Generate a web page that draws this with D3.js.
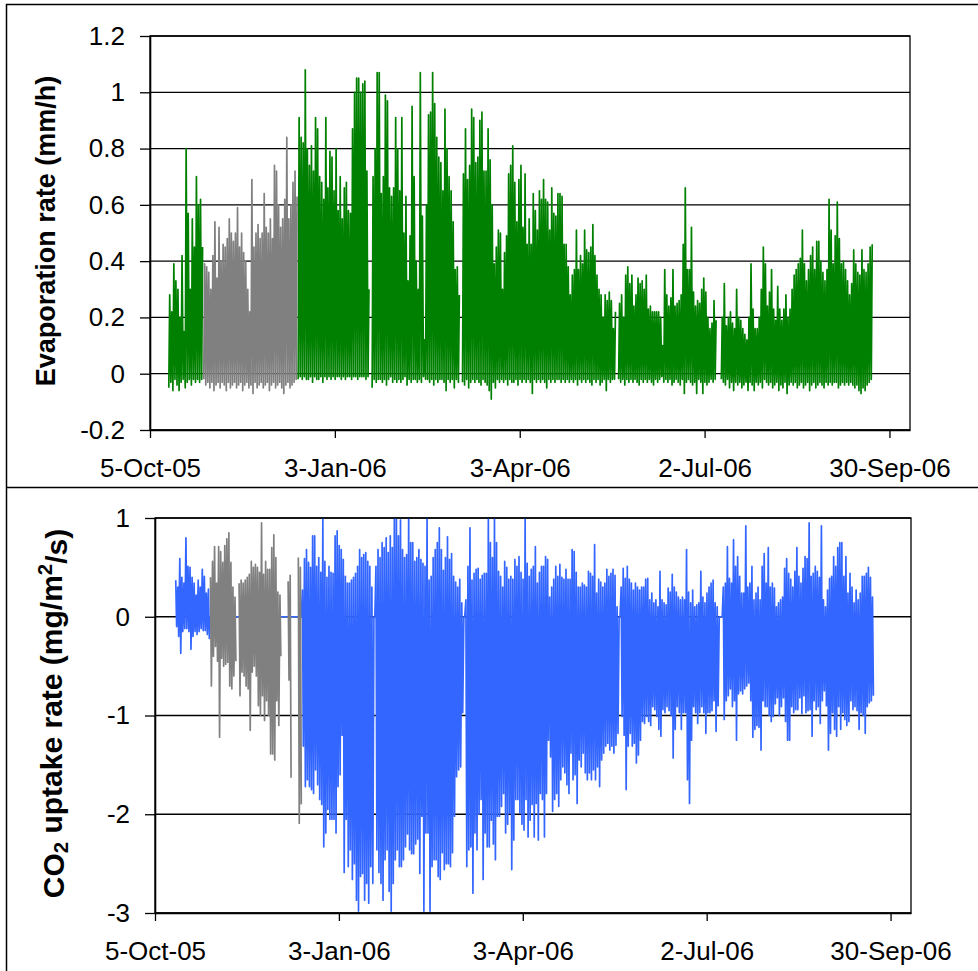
<!DOCTYPE html>
<html>
<head>
<meta charset="utf-8">
<script src="https://cdn.jsdelivr.net/npm/d3@7"></script>
<style>
  body { margin: 0; background: #fff; }
  svg text { font-family: "Liberation Sans", Arial, sans-serif; }
</style>
</head>
<body>
<div id="chart"></div>
<script>
// axis ticks
const tickDates = ["2005-10-05", "2006-01-03", "2006-04-03", "2006-07-02", "2006-09-30"];
const xDomain = ["2005-10-05", "2006-10-10"];
const evapTicks = [-0.2, 0, 0.2, 0.4, 0.6, 0.8, 1, 1.2];
const co2Ticks = [-3, -2, -1, 0, 1];

// evaporation: daily peak and night minimum (mm/h), one value per day from 14-Oct-05
// null = no measurement
const evapStart = "2005-10-14";
const evapMax = [
  0.28, 0.22, 0.39, 0.33, 0.30, 0.20, 0.42, 0.15, 0.80, 0.57, 0.30, 0.55, 0.45, 0.70, 0.60, 0.62, 0.45,
  null, null, null, null, null, null, null, null, null, null,
  null, null, null, null, null, null, null, null, null, null,
  null, null, null, null, null, null, null, null, null, null,
  null, null, null, null, null, null, null, null, null, null,
  null, null, null, null, null, null,
  0.91, 0.84, 0.82, 1.08, 0.80, 0.74, 0.81, 0.72, 0.91, 0.87,
  0.70, 0.68, 0.62, 0.91, 0.66, 0.79, 0.77, 0.65, 0.80, 0.58,
  0.70, 0.55, 0.66, 0.68, 0.58, 0.57, 0.87, 1.00, 1.05, 1.05,
  1.00, 1.03, 1.04, 0.72, 0.30, null, 0.70, 0.80, 1.07, 1.07,
  0.64, 0.70, 0.99, 0.97, 0.66, 0.63, 0.66, 0.91, 0.80, 0.65,
  0.91, 0.50, 0.63, 0.33, 0.49, 0.95, 0.70, 0.40, 0.30, 1.07,
  0.56, 0.12, 0.60, 0.92, 0.93, 1.07, 0.96, 0.84, 0.77, 0.75,
  0.65, 0.94, 0.80, 0.70, 0.65, 0.54, 0.37, 0.38, 0.28, null,
  0.71, 0.87, 0.69, 0.74, 0.94, 0.91, 0.75, 0.77, 0.90, 0.93,
  0.72, 0.72, 0.87, 0.76, 0.60, 0.39, 0.45, 0.51, 0.50, 0.30,
  0.43, 0.49, 0.71, 0.74, 0.81, 0.68, 0.54, 0.69, 0.74, 0.52,
  0.71, 0.46, 0.55, 0.46, 0.64, 0.58, 0.51, 0.65, 0.62, 0.69,
  0.62, 0.61, 0.51, 0.66, 0.57, 0.56, 0.64, 0.64, 0.63, 0.46,
  0.46, 0.38, 0.28, 0.35, 0.37, 0.51, 0.37, 0.42, 0.39, 0.51,
  0.44, 0.43, 0.45, 0.53, 0.42, 0.35, 0.30, 0.28, 0.20, 0.28,
  0.26, 0.29, 0.26, 0.16, 0.22, null, 0.25, 0.28, 0.20, 0.35,
  0.38, 0.32, 0.35, 0.24, 0.28, 0.34, 0.32, 0.33, 0.30, 0.35,
  0.23, 0.24, 0.22, 0.22, 0.22, 0.22, 0.20, 0.10, 0.37, 0.28,
  0.24, 0.27, 0.37, 0.24, 0.25, 0.26, 0.28, 0.46, 0.66, 0.37,
  0.37, 0.52, 0.29, 0.24, 0.26, 0.25, 0.30, 0.34, 0.29, 0.20,
  0.16, 0.18, 0.26, 0.19, null, null, 0.20, 0.32, 0.17, 0.20,
  0.22, 0.18, 0.16, 0.30, 0.20, 0.19, 0.16, 0.14, 0.12, 0.20,
  0.39, 0.23, 0.16, 0.16, 0.20, 0.30, 0.45, 0.39, 0.24, 0.29,
  0.37, 0.23, 0.19, 0.31, 0.23, 0.19, 0.23, 0.28, 0.20, 0.23,
  0.30, 0.35, 0.37, 0.39, 0.41, 0.51, 0.39, 0.33, 0.37, 0.42,
  0.45, 0.37, 0.47, 0.47, 0.40, 0.36, 0.33, 0.37, 0.62, 0.51,
  0.39, 0.49, 0.61, 0.48, 0.39, 0.40, 0.37, 0.33, 0.28, 0.32,
  0.44, 0.39, 0.36, 0.35, 0.44, 0.37, 0.36, 0.39, 0.45, 0.46
];
const evapMin = [
  -0.05, -0.03, -0.06, -0.02, -0.04, -0.06, -0.03, -0.02, -0.05, -0.03, -0.02, -0.04, -0.02, -0.03, -0.02, -0.03, -0.02,
  null, null, null, null, null, null, null, null, null, null,
  null, null, null, null, null, null, null, null, null, null,
  null, null, null, null, null, null, null, null, null, null,
  null, null, null, null, null, null, null, null, null, null,
  null, null, null, null, null, null,
  -0.02, -0.01, -0.02, -0.01, -0.02, -0.02, -0.01, -0.03, -0.01, -0.02,
  -0.02, -0.01, -0.03, -0.01, -0.02, -0.01, -0.02, -0.01, -0.02, -0.01,
  -0.01, -0.02, -0.01, -0.02, -0.01, -0.01, -0.02, -0.01, -0.01, -0.02,
  -0.01, -0.01, -0.01, -0.02, -0.01, null, -0.05, -0.02, -0.03, -0.02,
  -0.02, -0.03, -0.02, -0.04, -0.02, -0.01, -0.03, -0.02, -0.03, -0.02,
  -0.03, -0.02, -0.01, -0.04, -0.02, -0.03, -0.02, -0.02, -0.03, -0.02,
  -0.03, -0.01, -0.02, -0.02, -0.03, -0.02, -0.04, -0.02, -0.03, -0.02,
  -0.02, -0.03, -0.06, -0.02, -0.03, -0.02, -0.05, -0.02, -0.03, null,
  -0.03, -0.04, -0.02, -0.05, -0.03, -0.02, -0.03, -0.02, -0.03, -0.04,
  -0.02, -0.03, -0.04, -0.06, -0.09, -0.03, -0.05, -0.02, -0.03, -0.02,
  -0.03, -0.02, -0.04, -0.02, -0.03, -0.03, -0.02, -0.04, -0.02, -0.03,
  -0.02, -0.03, -0.02, -0.03, -0.07, -0.02, -0.03, -0.02, -0.03, -0.02,
  -0.03, -0.05, -0.02, -0.03, -0.02, -0.03, -0.02, -0.02, -0.03, -0.02,
  -0.03, -0.02, -0.03, -0.02, -0.03, -0.02, -0.04, -0.02, -0.03, -0.02,
  -0.03, -0.02, -0.03, -0.04, -0.02, -0.03, -0.02, -0.04, -0.03, -0.02,
  -0.06, -0.02, -0.03, -0.02, -0.02, null, -0.02, -0.03, -0.02, -0.04,
  -0.02, -0.03, -0.02, -0.03, -0.02, -0.03, -0.04, -0.02, -0.03, -0.02,
  -0.03, -0.02, -0.03, -0.04, -0.02, -0.03, -0.02, -0.01, -0.03, -0.02,
  -0.03, -0.02, -0.04, -0.03, -0.02, -0.03, -0.04, -0.02, -0.07, -0.03,
  -0.02, -0.03, -0.04, -0.03, -0.07, -0.02, -0.03, -0.07, -0.03, -0.04,
  -0.03, -0.02, -0.03, -0.02, null, null, -0.02, -0.03, -0.04, -0.02,
  -0.05, -0.03, -0.06, -0.03, -0.04, -0.03, -0.05, -0.04, -0.03, -0.06,
  -0.03, -0.04, -0.06, -0.03, -0.04, -0.03, -0.05, -0.02, -0.03, -0.04,
  -0.03, -0.05, -0.04, -0.03, -0.06, -0.04, -0.05, -0.03, -0.07, -0.04,
  -0.03, -0.04, -0.03, -0.05, -0.04, -0.03, -0.05, -0.04, -0.03, -0.06,
  -0.04, -0.03, -0.05, -0.04, -0.03, -0.04, -0.05, -0.03, -0.04, -0.03,
  -0.04, -0.03, -0.03, -0.05, -0.04, -0.03, -0.04, -0.03, -0.04, -0.03,
  -0.04, -0.05, -0.04, -0.06, -0.07, -0.05, -0.06, -0.04, -0.03, -0.02
];

// gray (gap-filled) evaporation, from 31-Oct-05
const evapGrayStart = "2005-10-31";
const evapGrayMax = [
  0.39, 0.38, 0.36, 0.30, 0.42, 0.54, 0.34, 0.52, 0.40, 0.46,
  0.45, 0.48, 0.55, 0.50, 0.47, 0.50, 0.59, 0.45, 0.50, 0.43,
  0.40, 0.30, 0.22, 0.69, 0.45, 0.50, 0.53, 0.48, 0.50, 0.64,
  0.52, 0.50, 0.55, 0.48, 0.74, 0.72, 0.60, 0.52, 0.55, 0.62,
  0.84, 0.55, 0.60, 0.68, 0.72, 0.63
];
const evapGrayMin = [
  -0.02, -0.04, -0.03, -0.05, -0.03, -0.06, -0.04, -0.03, -0.05, -0.03,
  -0.04, -0.06, -0.03, -0.05, -0.04, -0.03, -0.05, -0.04, -0.03, -0.06,
  -0.04, -0.03, -0.05, -0.04, -0.07, -0.03, -0.05, -0.04, -0.03, -0.05,
  -0.04, -0.03, -0.06, -0.04, -0.03, -0.05, -0.04, -0.03, -0.05, -0.07,
  -0.04, -0.03, -0.05, -0.04, -0.03, -0.02
];

// CO2 uptake: night maximum and daytime minimum (mg/m2/s), one value per day from 15-Oct-05
const co2Start = "2005-10-15";
const co2Max = [
  0.37, 0.30, 0.59, 0.40, 0.34, 0.80, 0.51, 0.50, 0.40, 0.34, 0.22, 0.37, 0.30, 0.48, 0.41, 0.24, 0.28,
  0, 0, 0, 0, 0, 0, 0, 0, 0, 0,
  0, 0, 0, 0, 0, 0, 0, 0, 0, 0,
  0, 0, 0, 0, 0, 0, 0, 0, 0, 0,
  0, 0, 0, 0, 0, 0, 0, 0, 0, 0,
  0, 0, 0, 0, 0,
  0.27, 0.59, 0.68, 0.55, 0.50, 0.82, 0.82, 0.51, 0.60, 0.45,
  1.00, 0.56, 0.40, 0.51, 0.45, 0.44, 0.82, 0.87, 0.72, 0.68,
  0.58, 0.41, 0.34, 0.34, 0.37, 0.40, 0.44, 0.51, 0.68, 0.60,
  0.63, 0.65, 0.56, 0.51, 0.30, 0, 0.51, 0.68, 0.60, 0.75,
  0.70, 0.80, 0.65, 0.82, 0.70, 1.00, 1.00, 0.82, 0.98, 0.68,
  0.60, 0.63, 1.00, 0.75, 0.75, 0.56, 0.60, 0.68, 0.58, 0.54,
  0.51, 1.00, 0.37, 0.41, 0.60, 0.68, 0.75, 0.90, 0.68, 0.47,
  0.60, 0.81, 0.58, 0.64, 0.41, 0.35, 0.30, 0.38, 0.14, 0,
  0.17, 0.51, 0.90, 0.37, 0.44, 0.48, 0.49, 0.38, 0.42, 0.44,
  0.44, 1.00, 0.75, 0.60, 1.00, 0.75, 0.46, 0.41, 0.30, 0.56,
  0.50, 0.38, 0.41, 0.38, 0.58, 0.51, 0.61, 0.45, 0.38, 1.00,
  0.54, 0.41, 0.48, 0.51, 0.71, 0.34, 0.45, 0.51, 0.51, 0.61,
  0.58, 0.20, 0.30, 0.38, 0.51, 0.41, 0.53, 0.40, 0.38, 0.48,
  0.38, 0.38, 0.68, 0.66, 0.45, 0.30, 0.30, 0.34, 0.32, 0.30,
  0.46, 0.44, 0.41, 0.73, 0.24, 0.38, 0.35, 0.30, 0.34, 0.48,
  0.41, 0.44, 0.48, 0.42, 0.10, 0, 0.30, 0.49, 0.39, 0.51,
  0.38, 0.34, 0.27, 0.34, 0.30, 0.27, 0.30, 0.30, 0.38, 0.39,
  0.17, 0.24, 0.14, 0.17, 0.10, 0.46, 0.17, 0.14, 0.12, 0.29,
  0.25, 0.43, 0.30, 0.25, 0.20, 0.17, 0.20, 0.17, 0.68, 0.25,
  0.14, 0.27, 0.10, 0.12, 0.14, 0.46, 0.20, 0.14, 0.24, 0.30,
  0.34, 0.37, 0.14, 0.10, 0, 0, 0.30, 0.34, 0.71, 0.39,
  0.34, 0.78, 0.51, 0.61, 0.41, 0.24, 0.24, 0.92, 0.30, 0.34,
  0.51, 0.17, 0.24, 0.30, 0.17, 0.51, 0.64, 0.34, 0.70, 0.30,
  0.34, 0.29, 0.10, 0.14, 0.17, 0.20, 0.49, 0.59, 0.44, 0.38,
  0.30, 0.46, 0.70, 0.41, 0.34, 0.49, 0.61, 0.59, 0.95, 0.41,
  0.44, 0.51, 0.46, 0.40, 0.92, 0.17, 0.10, 0.27, 0.39, 0.41,
  0.61, 0.51, 0.70, 0.75, 0.75, 0.41, 0.61, 0.24, 0.44, 0.30,
  0.14, 0.27, 0.17, 0.24, 0.41, 0.41, 0.44, 0.50, 0.40, 0.20
];
const co2Min = [
  -0.10, -0.20, -0.37, -0.15, -0.12, -0.12, -0.15, -0.33, -0.20, -0.15, -0.18, -0.15, -0.12, -0.14, -0.14, -0.18, -0.22,
  0, 0, 0, 0, 0, 0, 0, 0, 0, 0,
  0, 0, 0, 0, 0, 0, 0, 0, 0, 0,
  0, 0, 0, 0, 0, 0, 0, 0, 0, 0,
  0, 0, 0, 0, 0, 0, 0, 0, 0, 0,
  0, 0, 0, 0, 0,
  -1.31, -1.72, -1.65, -1.72, -1.75, -1.79, -1.55, -1.70, -1.85, -1.90,
  -2.33, -2.19, -1.95, -2.05, -2.05, -2.05, -2.19, -1.72, -1.60, -1.20,
  -2.59, -2.05, -2.53, -2.36, -2.66, -2.50, -2.87, -2.98, -2.63, -2.60,
  -2.87, -2.70, -2.90, -2.53, -2.70, 0, -2.36, -2.59, -2.70, -2.87,
  -2.46, -2.36, -2.78, -2.98, -2.70, -2.46, -2.36, -2.53, -2.53, -2.46,
  -2.33, -2.20, -2.36, -2.40, -2.40, -2.30, -2.25, -2.60, -2.02, -2.98,
  -2.19, -2.19, -2.98, -2.53, -2.46, -2.46, -2.63, -2.66, -2.39, -2.56,
  -2.50, -2.50, -2.53, -2.39, -2.02, -1.62, -1.55, -1.52, -0.97, 0,
  -2.53, -2.36, -2.33, -2.80, -2.19, -2.36, -2.00, -1.85, -2.66, -2.19,
  -2.33, -2.33, -2.06, -2.30, -2.46, -2.02, -2.02, -1.92, -1.79, -2.19,
  -2.10, -1.99, -2.56, -2.26, -1.85, -1.85, -1.99, -2.10, -2.16, -1.85,
  -2.23, -2.06, -1.90, -2.23, -1.89, -2.26, -1.79, -1.85, -2.23, -1.79,
  -1.25, -1.42, -1.97, -1.85, -1.79, -1.92, -1.65, -1.52, -1.58, -1.70,
  -1.79, -1.38, -1.65, -1.60, -1.89, -1.45, -1.52, -1.38, -1.58, -1.65,
  -1.58, -1.65, -1.55, -1.65, -1.52, -1.72, -1.45, -1.38, -1.31, -1.28,
  -1.35, -1.31, -1.38, -1.30, -1.18, 0, -1.01, -1.20, -1.75, -1.31,
  -1.18, -1.31, -1.28, -1.48, -1.40, -1.25, -1.06, -1.08, -1.01, -1.06,
  -1.10, -0.91, -0.94, -1.01, -1.14, -1.21, -0.94, -0.97, -0.91, -0.95,
  -1.00, -1.43, -1.14, -0.91, -0.97, -1.14, -0.97, -0.97, -1.65, -1.89,
  -1.25, -0.91, -0.97, -1.08, -0.97, -0.91, -0.97, -1.18, -0.97, -0.97,
  -0.95, -0.85, -1.16, -0.90, 0, 0, -1.04, -0.85, -0.80, -0.73,
  -0.91, -0.85, -1.25, -0.78, -0.75, -0.78, -0.73, -0.70, -0.67, -0.85,
  -1.22, -1.14, -1.10, -1.12, -1.35, -0.85, -0.91, -0.91, -1.00, -1.06,
  -1.01, -0.88, -0.82, -1.00, -0.91, -0.82, -1.06, -1.25, -1.25, -0.91,
  -0.97, -0.94, -0.94, -0.82, -0.98, -0.80, -0.97, -0.95, -0.94, -1.21,
  -0.85, -0.94, -0.91, -1.08, -0.85, -0.75, -0.90, -1.35, -1.18, -0.97,
  -1.14, -1.21, -0.91, -1.14, -0.97, -1.04, -1.10, -1.06, -0.85, -0.94,
  -0.91, -0.95, -1.14, -0.97, -1.00, -1.18, -0.91, -0.87, -0.85, -0.80
];

// gray (gap-filled) CO2, from 1-Nov-05; null = no value
const co2GrayStart = "2005-11-01";
const co2GrayMax = [
  0.40, 0.56, 0.71, 0.34, 0.71, 0.66, 0.55, 0.72, 0.79, 0.85,
  0.55, 0.30, 0.20, null, 0.34, 0.37, 0.34, 0.37, 0.40, 0.43,
  0.56, 0.50, 0.53, 0.50, 0.45, 0.95, 0.43, 0.56, 0.48, 0.48,
  0.70, 0.83, 0.60, 0.25, 0.22, null, null, null, 0.36, 0.42,
  null, null, null, 0.60, 0.50
];
const co2GrayMin = [
  -0.70, -0.40, -0.30, -0.45, -1.22, -0.42, -0.50, -0.48, -0.46, -0.70,
  -0.73, -0.60, -0.45, null, -0.80, -0.56, -0.60, -0.70, -0.73, -1.15,
  -0.56, -0.50, -0.60, -0.90, -1.00, -0.80, -1.05, -0.85, -1.00, -1.39,
  -1.39, -1.45, -0.85, -1.10, -0.40, null, null, null, -0.64, -1.63,
  null, null, null, -2.09, -1.90
];

const W = 978, H = 971;
const DAY = 864e5;
const parse = d3.utcParse("%Y-%m-%d");
const fmt = d3.utcFormat("%-d-%b-%y");

const svg = d3.select("#chart").append("svg")
    .attr("width", W)
    .attr("height", H);

// chart frames
svg.append("path")
    .attr("d", `M ${W} 4.5 H 6.5 V ${H} M 6.5 487.5 H ${W}`)
    .attr("fill", "none")
    .attr("stroke", "#000")
    .attr("stroke-width", 1.5);

// one value per day -> two points: first/second half of the day
function dailyPoints(start, first, second) {
    const t0 = parse(start).getTime();
    const pts = [];
    first.forEach((a, i) => {
        pts.push({t: new Date(t0 + (i + 0.15) * DAY), v: a});
        pts.push({t: new Date(t0 + (i + 0.6) * DAY), v: second[i]});
    });
    return pts;
}

function panel(cfg, id) {
    const x = d3.scaleUtc().domain(xDomain.map(parse)).range([cfg.left, cfg.right]);
    const y = d3.scaleLinear().domain(cfg.yDomain).range([cfg.bottom, cfg.top]);
    const g = svg.append("g");

    // gridlines
    g.append("g").selectAll("line")
        .data(cfg.ticks)
        .join("line")
        .attr("x1", cfg.left).attr("x2", cfg.right)
        .attr("y1", d => y(d)).attr("y2", d => y(d))
        .attr("stroke", "#000")
        .attr("stroke-width", 1.3);

    g.append("clipPath").attr("id", id)
        .append("rect")
        .attr("x", cfg.left).attr("y", cfg.top)
        .attr("width", cfg.right - cfg.left).attr("height", cfg.bottom - cfg.top);

    const line = d3.line()
        .defined(d => d.v != null)
        .x(d => x(d.t))
        .y(d => y(d.v));

    cfg.series.forEach(s => {
        g.append("path")
            .datum(s.points)
            .attr("clip-path", `url(#${id})`)
            .attr("d", line)
            .attr("fill", "none")
            .attr("stroke", s.color)
            .attr("stroke-width", 1.7)
            .attr("stroke-linejoin", "round");
    });

    // plot area border
    g.append("rect")
        .attr("x", cfg.left).attr("y", cfg.top)
        .attr("width", cfg.right - cfg.left).attr("height", cfg.bottom - cfg.top)
        .attr("fill", "none")
        .attr("stroke", "#000")
        .attr("stroke-width", 1.3);

    const yAxis = g.append("g")
        .attr("transform", `translate(${cfg.left},0)`)
        .call(d3.axisLeft(y).tickValues(cfg.ticks).tickSize(10).tickPadding(15)
            .tickSizeOuter(0).tickFormat(d => String(d)));

    const xAxis = g.append("g")
        .attr("transform", `translate(0,${cfg.bottom})`)
        .call(d3.axisBottom(x).tickValues(tickDates.map(parse)).tickSize(8).tickPadding(21)
            .tickSizeOuter(0).tickFormat(fmt));

    [yAxis, xAxis].forEach(a => {
        a.attr("font-family", null).attr("font-size", null);
        a.selectAll("text").attr("font-size", 26).attr("fill", "#000");
        a.selectAll("line").attr("stroke-width", 1.3);
        a.select(".domain").attr("stroke-width", 1.6);
    });

    // y-axis title
    const title = g.append("text")
        .attr("transform", `translate(${cfg.titleX},${(cfg.top + cfg.bottom) / 2 + cfg.titleDy}) rotate(-90)`)
        .attr("text-anchor", "middle")
        .attr("font-weight", "bold")
        .attr("font-size", cfg.titleSize)
        .attr("fill", "#000");
    cfg.title.forEach(part => {
        const ts = title.append("tspan").text(part.text);
        if (part.sub) ts.attr("font-size", "0.68em").attr("dy", "0.2em");
        if (part.sup) ts.attr("font-size", "0.68em").attr("dy", "-0.5em");
        if (part.reset) ts.attr("dy", part.reset);
    });
}

panel({
    left: 150, right: 910, top: 36, bottom: 430,
    yDomain: [-0.2, 1.2], ticks: evapTicks,
    titleX: 55, titleDy: -2, titleSize: 27,
    title: [{text: "Evaporation rate (mm/h)"}],
    series: [
        {color: "#008000", points: dailyPoints(evapStart, evapMin, evapMax)},
        {color: "#808080", points: dailyPoints(evapGrayStart, evapGrayMin, evapGrayMax)}
    ]
}, "clipTop");

panel({
    left: 155, right: 911, top: 518, bottom: 913,
    yDomain: [-3, 1], ticks: co2Ticks,
    titleX: 64, titleDy: -2, titleSize: 30,
    title: [
        {text: "CO"}, {text: "2", sub: true}, {text: " uptake rate (mg/m", reset: "-0.2em"},
        {text: "2", sup: true}, {text: "/s)", reset: "0.5em"}
    ],
    series: [
        {color: "#3366FF", points: dailyPoints(co2Start, co2Max, co2Min)},
        {color: "#808080", points: dailyPoints(co2GrayStart, co2GrayMax, co2GrayMin)}
    ]
}, "clipBottom");
</script>
</body>
</html>
